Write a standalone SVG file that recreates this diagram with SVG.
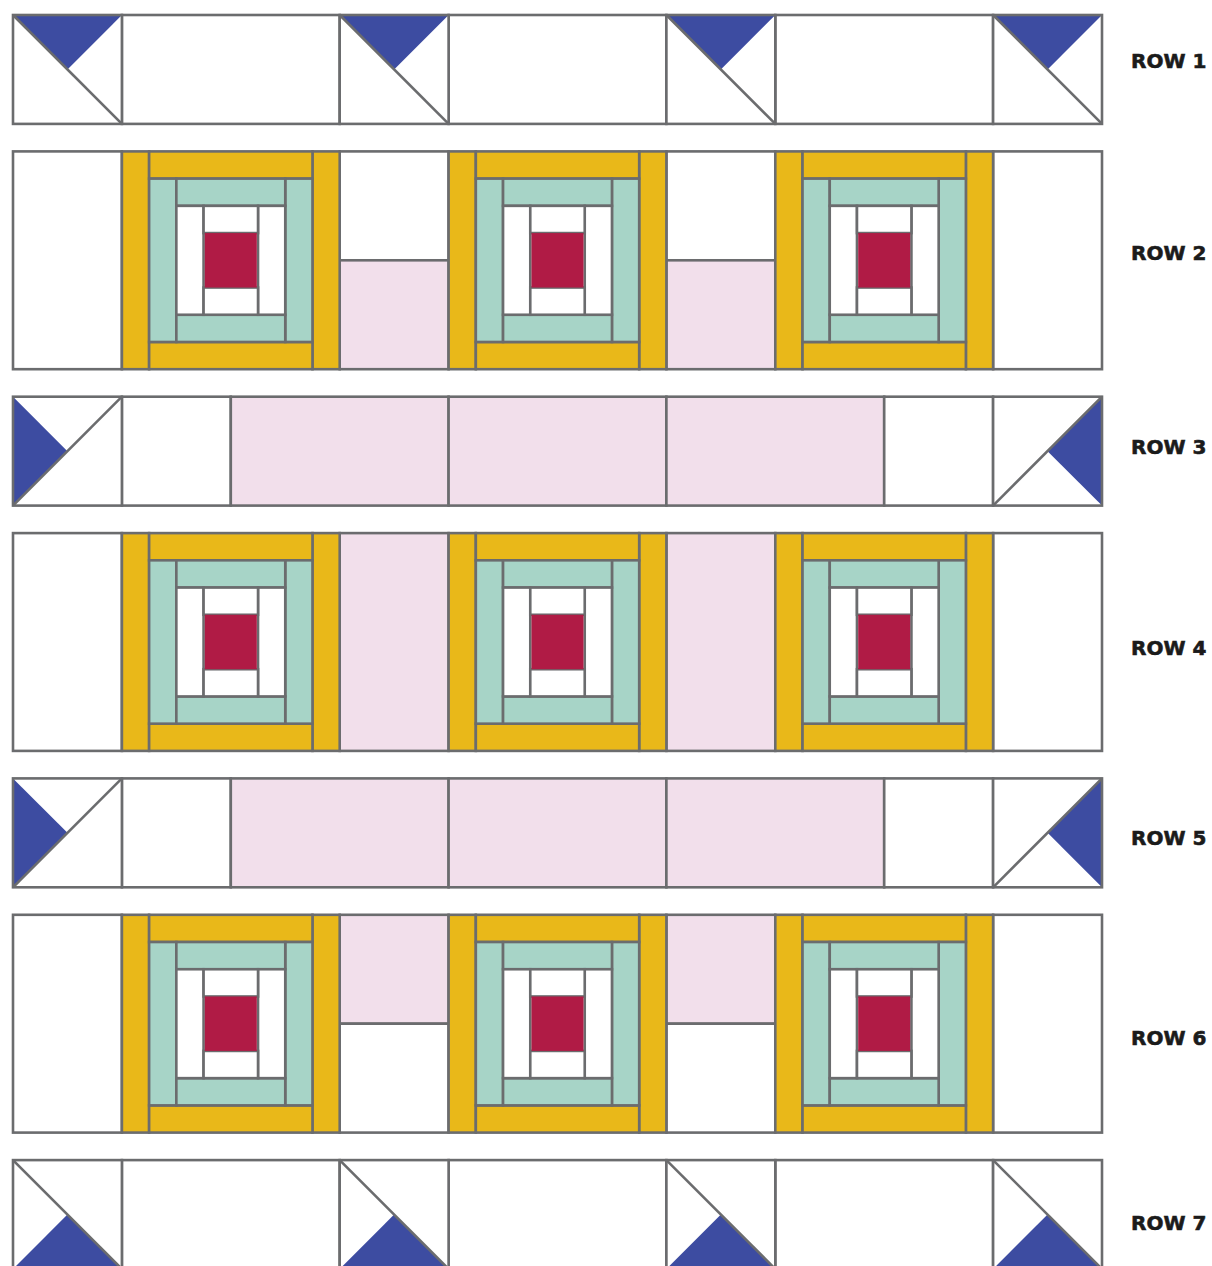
<svg xmlns="http://www.w3.org/2000/svg" xmlns:xlink="http://www.w3.org/1999/xlink" width="1212" height="1266" viewBox="0 0 1212 1266">
<style>
.s{stroke:#6b6c6e;stroke-width:2.6;stroke-linejoin:miter}
.w{fill:#ffffff}
.p{fill:#f2dfeb}
.y{fill:#e9b819}
.t{fill:#a7d4c7}
.r{fill:#b01b45}
.b{fill:#3d4ca1;stroke:none}
.ln{fill:none}
.lbl{font-family:"DejaVu Sans",sans-serif;font-weight:bold;font-size:20px;fill:#1b1b1b;stroke:#1b1b1b;stroke-width:0.6}
</style>
<defs>
<g id="logcabin">
<rect class="s y" x="0" y="0" width="27.225" height="217.8"/>
<rect class="s y" x="190.575" y="0" width="27.225" height="217.8"/>
<rect class="s y" x="27.225" y="0" width="163.35" height="27.225"/>
<rect class="s y" x="27.225" y="190.575" width="163.35" height="27.225"/>
<rect class="s t" x="27.225" y="27.225" width="27.225" height="163.35"/>
<rect class="s t" x="163.35" y="27.225" width="27.225" height="163.35"/>
<rect class="s t" x="54.45" y="27.225" width="108.9" height="27.225"/>
<rect class="s t" x="54.45" y="163.35" width="108.9" height="27.225"/>
<rect class="s w" x="54.45" y="54.45" width="27.225" height="108.9"/>
<rect class="s w" x="136.125" y="54.45" width="27.225" height="108.9"/>
<rect class="s w" x="81.675" y="54.45" width="54.45" height="27.225"/>
<rect class="s w" x="81.675" y="136.125" width="54.45" height="27.225"/>
<rect class="r" x="82.9" y="81.675" width="52" height="54.45"/>
</g>
<g id="hstTop">
<rect class="w" x="0" y="0" width="108.9" height="108.9"/>
<polygon class="b" points="0,0 108.9,0 54.45,54.45"/>
<line class="s ln" x1="0" y1="0" x2="108.9" y2="108.9"/>
<rect class="s ln" x="0" y="0" width="108.9" height="108.9"/>
</g>
<g id="hstBottom">
<rect class="w" x="0" y="0" width="108.9" height="108.9"/>
<polygon class="b" points="0,108.9 108.9,108.9 54.45,54.45"/>
<line class="s ln" x1="0" y1="0" x2="108.9" y2="108.9"/>
<rect class="s ln" x="0" y="0" width="108.9" height="108.9"/>
</g>
<g id="hstLeft">
<rect class="w" x="0" y="0" width="108.9" height="108.9"/>
<polygon class="b" points="0,0 0,108.9 54.45,54.45"/>
<line class="s ln" x1="0" y1="108.9" x2="108.9" y2="0"/>
<rect class="s ln" x="0" y="0" width="108.9" height="108.9"/>
</g>
<g id="hstRight">
<rect class="w" x="0" y="0" width="108.9" height="108.9"/>
<polygon class="b" points="108.9,0 108.9,108.9 54.45,54.45"/>
<line class="s ln" x1="0" y1="108.9" x2="108.9" y2="0"/>
<rect class="s ln" x="0" y="0" width="108.9" height="108.9"/>
</g>
</defs>
<rect x="0" y="0" width="1212" height="1266" fill="#ffffff"/>

<!-- ROW 1 -->
<g id="row1">
<rect class="s w" x="121.9" y="15" width="217.8" height="108.9"/>
<rect class="s w" x="448.6" y="15" width="217.8" height="108.9"/>
<rect class="s w" x="775.3" y="15" width="217.8" height="108.9"/>
<use id="r1-hst1" href="#hstTop" xlink:href="#hstTop" x="13" y="15"/>
<use id="r1-hst2" href="#hstTop" xlink:href="#hstTop" x="339.7" y="15"/>
<use id="r1-hst3" href="#hstTop" xlink:href="#hstTop" x="666.4" y="15"/>
<use id="r1-hst4" href="#hstTop" xlink:href="#hstTop" x="993.1" y="15"/>
</g>

<!-- ROW 2 -->
<g id="row2">
<rect class="s w" x="13" y="151.4" width="108.9" height="217.8"/>
<rect class="s w" x="339.7" y="151.4" width="108.9" height="108.9"/>
<rect class="s p" x="339.7" y="260.3" width="108.9" height="108.9"/>
<rect class="s w" x="666.4" y="151.4" width="108.9" height="108.9"/>
<rect class="s p" x="666.4" y="260.3" width="108.9" height="108.9"/>
<rect class="s w" x="993.1" y="151.4" width="108.9" height="217.8"/>
<use id="r2-lc1" href="#logcabin" xlink:href="#logcabin" x="121.9" y="151.4"/>
<use id="r2-lc2" href="#logcabin" xlink:href="#logcabin" x="448.6" y="151.4"/>
<use id="r2-lc3" href="#logcabin" xlink:href="#logcabin" x="775.3" y="151.4"/>
</g>

<!-- ROW 3 -->
<g id="row3">
<rect class="s w" x="121.9" y="396.7" width="108.9" height="108.9"/>
<rect class="s p" x="230.8" y="396.7" width="217.8" height="108.9"/>
<rect class="s p" x="448.6" y="396.7" width="217.8" height="108.9"/>
<rect class="s p" x="666.4" y="396.7" width="217.8" height="108.9"/>
<rect class="s w" x="884.2" y="396.7" width="108.9" height="108.9"/>
<use id="r3-hstL" href="#hstLeft" xlink:href="#hstLeft" x="13" y="396.7"/>
<use id="r3-hstR" href="#hstRight" xlink:href="#hstRight" x="993.1" y="396.7"/>
</g>

<!-- ROW 4 -->
<g id="row4">
<rect class="s w" x="13" y="533.1" width="108.9" height="217.8"/>
<rect class="s p" x="339.7" y="533.1" width="108.9" height="217.8"/>
<rect class="s p" x="666.4" y="533.1" width="108.9" height="217.8"/>
<rect class="s w" x="993.1" y="533.1" width="108.9" height="217.8"/>
<use id="r4-lc1" href="#logcabin" xlink:href="#logcabin" x="121.9" y="533.1"/>
<use id="r4-lc2" href="#logcabin" xlink:href="#logcabin" x="448.6" y="533.1"/>
<use id="r4-lc3" href="#logcabin" xlink:href="#logcabin" x="775.3" y="533.1"/>
</g>

<!-- ROW 5 -->
<g id="row5">
<rect class="s w" x="121.9" y="778.4" width="108.9" height="108.9"/>
<rect class="s p" x="230.8" y="778.4" width="217.8" height="108.9"/>
<rect class="s p" x="448.6" y="778.4" width="217.8" height="108.9"/>
<rect class="s p" x="666.4" y="778.4" width="217.8" height="108.9"/>
<rect class="s w" x="884.2" y="778.4" width="108.9" height="108.9"/>
<use id="r5-hstL" href="#hstLeft" xlink:href="#hstLeft" x="13" y="778.4"/>
<use id="r5-hstR" href="#hstRight" xlink:href="#hstRight" x="993.1" y="778.4"/>
</g>

<!-- ROW 6 -->
<g id="row6">
<rect class="s w" x="13" y="914.8" width="108.9" height="217.8"/>
<rect class="s p" x="339.7" y="914.8" width="108.9" height="108.9"/>
<rect class="s w" x="339.7" y="1023.7" width="108.9" height="108.9"/>
<rect class="s p" x="666.4" y="914.8" width="108.9" height="108.9"/>
<rect class="s w" x="666.4" y="1023.7" width="108.9" height="108.9"/>
<rect class="s w" x="993.1" y="914.8" width="108.9" height="217.8"/>
<use id="r6-lc1" href="#logcabin" xlink:href="#logcabin" x="121.9" y="914.8"/>
<use id="r6-lc2" href="#logcabin" xlink:href="#logcabin" x="448.6" y="914.8"/>
<use id="r6-lc3" href="#logcabin" xlink:href="#logcabin" x="775.3" y="914.8"/>
</g>

<!-- ROW 7 -->
<g id="row7">
<rect class="s w" x="121.9" y="1160.1" width="217.8" height="108.9"/>
<rect class="s w" x="448.6" y="1160.1" width="217.8" height="108.9"/>
<rect class="s w" x="775.3" y="1160.1" width="217.8" height="108.9"/>
<use id="r7-hst1" href="#hstBottom" xlink:href="#hstBottom" x="13" y="1160.1"/>
<use id="r7-hst2" href="#hstBottom" xlink:href="#hstBottom" x="339.7" y="1160.1"/>
<use id="r7-hst3" href="#hstBottom" xlink:href="#hstBottom" x="666.4" y="1160.1"/>
<use id="r7-hst4" href="#hstBottom" xlink:href="#hstBottom" x="993.1" y="1160.1"/>
</g>

<g id="labels">
<text class="lbl" x="1131" y="68">ROW 1</text>
<text class="lbl" x="1131" y="259.5">ROW 2</text>
<text class="lbl" x="1131" y="453.5">ROW 3</text>
<text class="lbl" x="1131" y="655">ROW 4</text>
<text class="lbl" x="1131" y="845">ROW 5</text>
<text class="lbl" x="1131" y="1045">ROW 6</text>
<text class="lbl" x="1131" y="1230">ROW 7</text>
</g>
<g id="connectors"/>
</svg>
